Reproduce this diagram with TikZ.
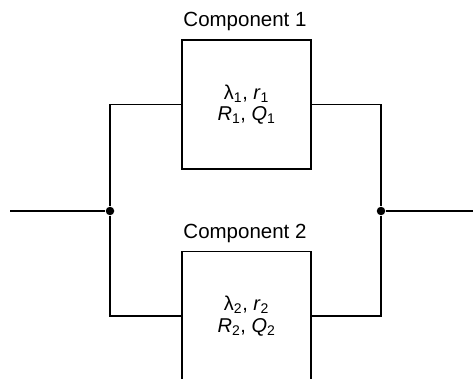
\documentclass[tikz,border=0pt]{standalone}
\usepackage{fontspec}
\setmainfont{Liberation Sans}
\begin{document}
\begin{tikzpicture}[x=1pt,y=-1pt,line width=1.3pt,
  comp/.style={draw, minimum width=129pt, minimum height=129pt, inner sep=0pt, align=center,
    font=\fontsize{20}{21.5}\selectfont},
  lbl/.style={font=\fontsize{20.5}{22}\selectfont, inner sep=0pt, anchor=base},
  junc/.style={circle, fill, inner sep=0pt, minimum size=8.5pt}]
\useasboundingbox (0,0) rectangle (473,379);
\node[comp] (c1) at (246.5,104.5) {λ\textsubscript{1}, \textit{r}\textsubscript{1}\\\textit{R}\textsubscript{1}, \textit{Q}\textsubscript{1}};
\node[comp] (c2) at (246.5,316) {λ\textsubscript{2}, \textit{r}\textsubscript{2}\\\textit{R}\textsubscript{2}, \textit{Q}\textsubscript{2}};
\node[lbl] (t1) at (245,27) {Component 1};
\node[lbl] (t2) at (245,238) {Component 2};
\node[junc] (jl) at (110,211) {};
\node[junc] (jr) at (381,211) {};
\coordinate (in) at (10,211);
\coordinate (out) at (474,211);
\draw (in) -- (jl);
\draw (jl) |- (c1.west);
\draw (jl) |- (c2.west);
\draw (c1.east) -| (jr);
\draw (c2.east) -| (jr);
\draw (jr) -- (out);
\end{tikzpicture}
\end{document}
